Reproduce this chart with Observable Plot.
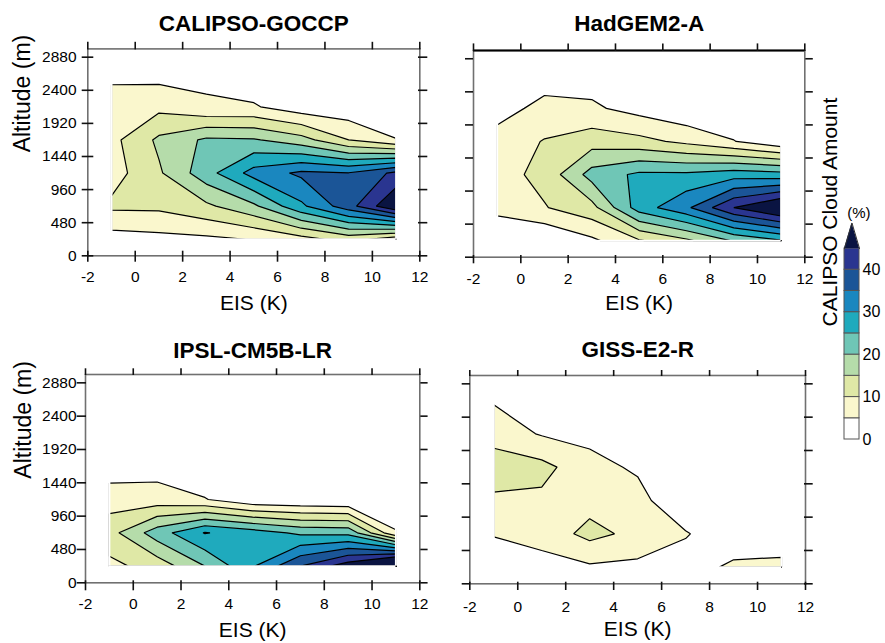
<!DOCTYPE html>
<html><head><meta charset="utf-8">
<script src="https://cdn.jsdelivr.net/npm/d3@7"></script>
<script src="https://cdn.jsdelivr.net/npm/@observablehq/plot@0.6"></script>
<style>
html,body{margin:0;padding:0;background:#fff;}
#chart{position:relative;width:885px;height:643px;overflow:hidden;font-family:"Liberation Sans",Arial,sans-serif;}
#chart .slot{position:absolute;}
#chart svg{overflow:visible;}
</style></head><body><div id="chart"></div>
<script>
// ---- data ----
const eisBins = [-1, 1, 3, 5, 7, 9, 11];              // EIS bin centres (K)
const altitudeBins = [240, 720, 1200, 1680, 2160, 2640]; // altitude bin centres (m)
const eisTicks = [-2, 0, 2, 4, 6, 8, 10, 12];
const altitudeTicks = [0, 480, 960, 1440, 1920, 2400, 2880];
const levels = [5, 10, 15, 20, 25, 30, 35, 40, 45];
const levelColors = ["#ffffff", "#faf7cd", "#dfe8a6", "#b5dcaa", "#6fc6b6", "#1faabd", "#1a87bf", "#1b5597", "#2a3590", "#0a1442"];
const legendTicks = [0, 10, 20, 30, 40];
const panelTitles = ["CALIPSO-GOCCP", "HadGEM2-A", "IPSL-CM5B-LR", "GISS-E2-R"];

// cloud amount (%), rows = altitudeBins (bottom -> top), columns = eisBins
const calipsoGoccp = [
  [2.7, 3.5, 4.0, 5.2, 8.0, 12.0, 7.0],
  [11.0, 11.1, 14.0, 19.0, 29.0, 38.0, 50.0],
  [7.8, 14.3, 23.0, 32.0, 36.0, 35.2, 41.2],
  [8.5, 16.0, 20.9, 20.5, 17.0, 10.0, 5.1],
  [7.0, 8.6, 5.5, 5.5, 2.0, 1.5, 3.0],
  [4.0, 3.3, 4.2, 1.5, 1.0, 1.0, 1.0]
];
const hadgem2A = [
  [2.0, 0.0, 4.0, 9.5, 14.0, 20.5, 24.5],
  [6.0, 9.7, 13.3, 27.5, 34.0, 45.0, 52.0],
  [8.0, 11.5, 22.0, 26.0, 26.0, 27.8, 27.0],
  [7.0, 10.3, 12.8, 11.5, 8.8, 5.2, 1.0],
  [3.0, 6.5, 5.8, 3.2, 0.9, 1.0, 0.5],
  [1.0, 2.65, 2.8, 1.0, 0.5, 0.5, 0.0]
];
const ipslCm5bLr = [
  [8.7, 12.0, 20.0, 29.5, 40.0, 48.0, 60.0],
  [13.1, 22.6, 30.3, 27.5, 24.0, 23.5, 5.5],
  [7.7, 7.2, 5.3, 1.0, 0.5, 0.0, 0.0],
  [2.2, 3.0, 0.5, 0.0, 0.0, 0.0, 0.0],
  [0, 0, 0, 0, 0, 0, 0],
  [0, 0, 0, 0, 0, 0, 0]
];
const gissE2R = [
  [0.0, 3.0, 4.3, 3.8, 2.0, 6.27, 7.1],
  [5.5, 7.0, 11.5, 8.6, 5.5, 0.5, 0.0],
  [9.0, 9.0, 8.2, 7.0, 0.0, 0.0, 0.0],
  [13.0, 11.5, 6.8, 4.2, 1.0, 0.0, 0.0],
  [7.7, 4.6, 3.5, 2.0, 0.0, 0.0, 0.0],
  [4.6, 1.0, 0.5, 0.0, 0.0, 0.0, 0.0]
];

// ---- helpers ----
const FONT = '"Liberation Sans", Arial, sans-serif';
const xDomain = [eisTicks[0], eisTicks[eisTicks.length - 1]];
const yDomain = [0, 3000];
const gw = eisBins.length + 2, gh = altitudeBins.length + 2;
const eisStep = eisBins[1] - eisBins[0], altStep = altitudeBins[1] - altitudeBins[0];
const gx1 = eisBins[0] - 1.5 * eisStep, gx2 = eisBins[eisBins.length - 1] + 1.5 * eisStep;
const gy1 = altitudeBins[0] - 1.5 * altStep, gy2 = altitudeBins[altitudeBins.length - 1] + 1.5 * altStep;
const OUTSIDE = -1e6; // no-data marker around the sampled bins

function buildGrid(rows) { // pad with no-data cells so fills stop at the bin centres
  const g = new Array(gw * gh).fill(OUTSIDE);
  rows.forEach((row, j) => row.forEach((v, i) => { g[(j + 1) * gw + (i + 1)] = v; }));
  return g;
}

const chart = document.getElementById("chart");
function place(el, left, top) {
  const d = document.createElement("div");
  d.className = "slot"; d.style.left = left + "px"; d.style.top = top + "px";
  d.appendChild(el); chart.appendChild(d);
}

function panel(p) {
  const tickStyle = {stroke: "#111", strokeWidth: 1.6, tickFormat: () => "", label: null};
  const marks = [
    Plot.contour(buildGrid(p.rows), {
      width: gw, height: gh, x1: gx1, x2: gx2, y1: gy1, y2: gy2,
      fill: Plot.identity, thresholds: levels, stroke: "#000", strokeWidth: 1.2, clip: true
    }),
    Plot.ruleX([eisBins[0], eisBins[eisBins.length - 1]], {y1: altitudeBins[0], y2: altitudeBins[altitudeBins.length - 1], stroke: "#fff", strokeWidth: 2}),
    Plot.ruleY([altitudeBins[0]], {x1: eisBins[0], x2: eisBins[eisBins.length - 1], stroke: "#fff", strokeWidth: 2}),
    Plot.frame({stroke: "#707070", strokeWidth: 1.6}),
    p.topBlack ? Plot.ruleY([yDomain[1]], {stroke: "#000", strokeWidth: 2.2}) : null,
    Plot.axisX({anchor: "bottom", ticks: eisTicks, tickSize: p.bTick, dy: -p.bIn, ...tickStyle}),
    Plot.axisX({anchor: "bottom", ticks: eisTicks, tickSize: 0, tickPadding: p.xPad, tickFormat: d => String(d), fontSize: 15.5, label: null}),
    Plot.axisX({anchor: "top", ticks: eisTicks, tickSize: p.tTick, ...tickStyle}),
    Plot.axisY({anchor: "left", ticks: altitudeTicks, tickSize: p.lTick, dx: p.lIn, ...tickStyle}),
    p.yLabels ? Plot.axisY({anchor: "left", ticks: altitudeTicks, tickSize: 0, tickPadding: p.yPad, tickFormat: d => String(d), fontSize: 15.5, label: null}) : null,
    Plot.axisY({anchor: "right", ticks: altitudeTicks, tickSize: p.rTick, dx: -p.rIn, ...tickStyle}),
    Plot.text([p.title], {text: d => d, frameAnchor: "top", lineAnchor: "bottom", dy: p.titleDy, fontSize: 22.5, fontWeight: "bold"}),
    Plot.text(["EIS (K)"], {text: d => d, frameAnchor: "bottom", lineAnchor: "bottom", dy: p.xLabDy, fontSize: 21}),
    p.yLabels ? Plot.text(["Altitude (m)"], {text: d => d, frameAnchor: "left", lineAnchor: "bottom", rotate: -90, dx: p.yLabDx, fontSize: 23}) : null
  ];
  const svg = Plot.plot({
    width: p.width, height: p.height,
    marginLeft: p.mL, marginRight: p.mR, marginTop: p.mT, marginBottom: p.mB,
    x: {domain: xDomain},
    y: {domain: yDomain},
    color: {type: "threshold", domain: levels, range: levelColors},
    style: {fontFamily: FONT, fontSize: "16px", color: "#000", background: "transparent", overflow: "visible"},
    marks
  });
  place(svg, p.left, p.top);
}

panel({title: panelTitles[0], rows: calipsoGoccp, left: 0, top: 0, width: 440, height: 320,
  mL: 87.3, mR: 20.7, mT: 48.4, mB: 64.7, yLabels: true,
  bTick: 11, bIn: 4.6, tTick: 7.6, lTick: 11.6, lIn: 6, rTick: 9.3, rIn: 2.3,
  xPad: 15.5, yPad: 11.3, titleDy: -18.4, xLabDy: 53.7, yLabDx: -57.8});
panel({title: panelTitles[1], rows: hadgem2A, left: 440, top: 0, width: 445, height: 320,
  mL: 33, mR: 80.7, mT: 50, mB: 63.3, yLabels: false, topBlack: true,
  bTick: 8.3, bIn: 1.7, tTick: 7.6, lTick: 8, lIn: 0, rTick: 7.5, rIn: 0,
  xPad: 15.5, titleDy: -20, xLabDy: 52.6});
panel({title: panelTitles[2], rows: ipslCm5bLr, left: 0, top: 320, width: 440, height: 323,
  mL: 85, mR: 20.7, mT: 54, mB: 60.7, yLabels: true,
  bTick: 10, bIn: 2, tTick: 6.7, lTick: 9.3, lIn: 1, rTick: 7.3, rIn: 0,
  xPad: 15, yPad: 9, titleDy: -17, xLabDy: 54.4, yLabDx: -54.5});
panel({title: panelTitles[3], rows: gissE2R, left: 440, top: 320, width: 445, height: 323,
  mL: 29.3, mR: 80, mT: 55, mB: 59.7, yLabels: false,
  bTick: 8.3, bIn: 1.6, tTick: 6, lTick: 8.3, lIn: 0.7, rTick: 8.7, rIn: 2,
  xPad: 17, titleDy: -18.5, xLabDy: 51.7});

// ---- colour bar ----
const legendBands = levels.map((hi, i) => ({lo: hi - 5, hi, color: levelColors[i]}));
const topLevel = levels[levels.length - 1];
const tipLevel = topLevel + 6; // height of the open-ended triangle
const triangle = [
  {x: 0, y1: topLevel, y2: topLevel},
  {x: 0.5, y1: topLevel, y2: tipLevel},
  {x: 1, y1: topLevel, y2: topLevel}
];
const legend = Plot.plot({
  width: 85, height: 250, marginLeft: 44, marginRight: 26, marginTop: 48, marginBottom: 11,
  x: {domain: [0, 1], axis: null},
  y: {domain: [0, topLevel], axis: null},
  style: {fontFamily: FONT, fontSize: "15px", color: "#000", background: "transparent", overflow: "visible"},
  marks: [
    Plot.rect(legendBands, {x1: 0, x2: 1, y1: "lo", y2: "hi", fill: "color", stroke: "#555", strokeWidth: 1}),
    Plot.areaY(triangle, {x: "x", y1: "y1", y2: "y2", fill: levelColors[levelColors.length - 1]}),
    Plot.line(triangle, {x: "x", y: "y2", stroke: "#333", strokeWidth: 1}),
    Plot.axisY({anchor: "right", ticks: legendTicks, tickSize: 0, tickPadding: 3, fontSize: 16, label: null}),
    Plot.text(["(%)"], {text: d => d, frameAnchor: "top-right", dx: 11, dy: -41, fontSize: 15}),
    Plot.text(["CALIPSO Cloud Amount"], {text: d => d, frameAnchor: "left", lineAnchor: "bottom", rotate: -90, dx: -7.5, dy: -17.5, fontSize: 21})
  ]
});
place(legend, 800, 200);
</script></body></html>
